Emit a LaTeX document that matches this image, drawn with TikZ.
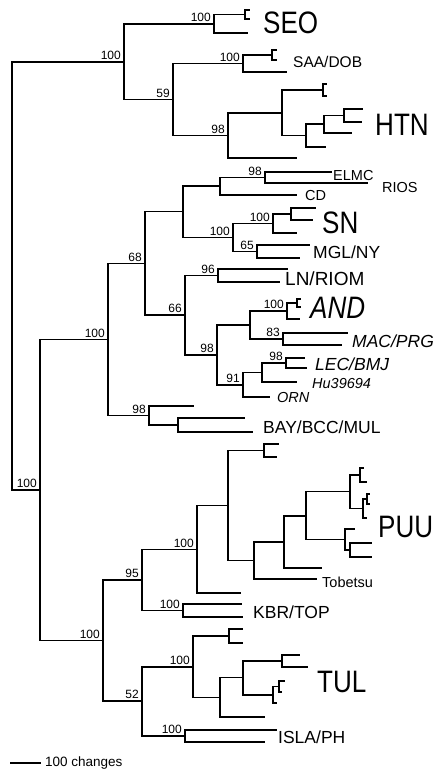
\documentclass[tikz,border=0pt]{standalone}
\usepackage{fontspec}
\setmainfont{Liberation Sans}
\newfontfamily\narrowsf[FakeStretch=0.84]{Liberation Sans}

\tikzset{
  branch/.style={line width=1.9pt},
  bs/.style={anchor=south east, inner sep=0pt, xshift=-3pt, yshift=2pt, font=\fontsize{12}{12}\selectfont},
  bigtip/.style={anchor=base west, inner sep=0pt, font=\narrowsf\fontsize{31}{31}\selectfont},
  midtip/.style={anchor=base west, inner sep=0pt, font=\fontsize{17.5}{17.5}\selectfont},
  smalltip/.style={anchor=base west, inner sep=0pt, font=\fontsize{14.5}{14.5}\selectfont},
}

\begin{document}
\begin{tikzpicture}[x=1pt, y=-1pt]
  \useasboundingbox (0,0) rectangle (437,774);

  % internal nodes
  \foreach \n/\x/\y in {r/12/276, a/124/62, seo/214/24, seoT/245/14.5, n59/173/99.5,
      saa/243/63.5, saaT/272/55, hh/228/135.5, htnA/282/113, htnT/323/90,
      htnB/306/135.5, htnC/324/124, htnD/344/115.5,
      b/40/490, c100/108/339.5, n68/145/263.5, cA/183/211.5, cB/220/186,
      elmc/265/177.5, cS/233/237.5, sn1/273/223.5, sn2/291/214, n65/257/251.5,
      n66/185/315, n96/218/275.5, n98c/217/355, nA/250/325, and/287/311,
      andT/297/303, n83/283/339, n91/243/385, nL/262/372.5, lec/286/363,
      n98b/149/415.5, bay/178/425,
      d100/103/640.5, n95/142/580, pA/197/549.5, pB/228/505.5, pT/264/450.5,
      p1/254/560.5, p2/284/542, p3/306/516, p4/350/491.5, q1/360/475,
      q2/363/508.5, q3/367/499, p5/345/539.5, p5b/350/550, kbr/183/610.5,
      n52/142/701, tA/193/666.75, tT/229/636, t1/220/697.5, t2/243/677.5,
      t3/282/661, t4/273/694.75, t5/279/686.5, isla/185/736}
    \coordinate (\n) at (\x,\y);

  % leaves
  \foreach \n/\x/\y in {seoT-a/250/10, seoT-b/250/19, seo-l/248/33,
      saaT-a/277/50, saaT-b/277/60, saa-l/287/72,
      htnT-a/327/84, htnT-b/327/96, htnD-a/363/109, htnD-b/362/122,
      htnC-l/352/133, htnB-l/326/147, hh-l/297/158,
      elmc-a/332/172, elmc-b/368/183, cd/297/195,
      sn2-a/316/208, sn2-b/313/220, sn1-l/297/233, n65-a/310/245, n65-b/300/258,
      n96-a/288/269, n96-b/280/282, andT-a/301/299, andT-b/301/307, and-l/300/319,
      n83-a/348/333, n83-b/342/345, lec-a/305/358, lec-b/307/368,
      hu/297/382, orn/270/397, n98b-l/194/406, bay-a/245/418, bay-b/253/432,
      pT-a/279/444, pT-b/277/457, q1-a/364/468, q1-b/367/482,
      q3-a/370/494, q3-b/370/504, q2-l/367/518, p5-l/355/529,
      p5b-a/372/543, p5b-b/372/557, p2-l/322/568, tob/317/579, pA-l/241/593,
      kbr-a/242/604, kbr-b/243/617,
      tT-a/243/629, tT-b/243/643, t3-a/300/655, t3-b/308/667,
      t5-a/285/681, t5-b/282/692, t4-l/277/703, t1-l/265/717,
      isla-a/277/730, isla-b/265/742}
    \coordinate (\n) at (\x,\y);

  % branches
  \foreach \p/\c in {r/a, r/b, a/seo, a/n59,
      seo/seoT, seo/seo-l, seoT/seoT-a, seoT/seoT-b,
      n59/saa, n59/hh, saa/saaT, saa/saa-l, saaT/saaT-a, saaT/saaT-b,
      hh/htnA, hh/hh-l, htnA/htnT, htnA/htnB, htnT/htnT-a, htnT/htnT-b,
      htnB/htnC, htnB/htnB-l, htnC/htnD, htnC/htnC-l, htnD/htnD-a, htnD/htnD-b,
      b/c100, b/d100, c100/n68, c100/n98b, n68/cA, n68/n66,
      cA/cB, cA/cS, cB/elmc, cB/cd, elmc/elmc-a, elmc/elmc-b,
      cS/sn1, cS/n65, sn1/sn2, sn1/sn1-l, sn2/sn2-a, sn2/sn2-b,
      n65/n65-a, n65/n65-b, n66/n96, n66/n98c, n96/n96-a, n96/n96-b,
      n98c/nA, n98c/n91, nA/and, nA/n83,
      and/andT, and/and-l, andT/andT-a, andT/andT-b, n83/n83-a, n83/n83-b,
      n91/nL, n91/orn, nL/lec, nL/hu, lec/lec-a, lec/lec-b,
      n98b/n98b-l, n98b/bay, bay/bay-a, bay/bay-b,
      d100/n95, d100/n52, n95/pA, n95/kbr, pA/pB, pA/pA-l,
      pB/pT, pB/p1, pT/pT-a, pT/pT-b, p1/p2, p1/tob, p2/p3, p2/p2-l,
      p3/p4, p3/p5, p4/q1, p4/q2, q1/q1-a, q1/q1-b,
      q2/q3, q2/q2-l, q3/q3-a, q3/q3-b, p5/p5-l, p5/p5b, p5b/p5b-a, p5b/p5b-b,
      kbr/kbr-a, kbr/kbr-b, n52/tA, n52/isla, tA/tT, tA/t1, tT/tT-a, tT/tT-b,
      t1/t2, t1/t1-l, t2/t3, t2/t4, t3/t3-a, t3/t3-b,
      t4/t5, t4/t4-l, t5/t5-a, t5/t5-b, isla/isla-a, isla/isla-b}
    \draw[branch] (\p) |- (\c);

  % bootstrap values
  \foreach \n/\v in {a/100, seo/100, n59/59, saa/100, hh/98, elmc/98, sn1/100,
      cS/100, n65/65, n68/68, n96/96, n66/66, and/100, n83/83, n98c/98, lec/98,
      n91/91, c100/100, n98b/98, b/100, d100/100, n95/95, pA/100, kbr/100,
      n52/52, tA/100, isla/100}
    \node[bs] (bs-\n) at (\n) {\v};

  % taxon names
  \node[bigtip] (l-seo) at (263,33) {SEO};
  \node[midtip, font=\fontsize{15.5}{15.5}\selectfont] (l-saa) at (293,67) {SAA/DOB};
  \node[bigtip] (l-htn) at (375,135) {HTN};
  \node[smalltip] (l-elmc) at (333,180) {ELMC};
  \node[smalltip] (l-rios) at (382,192) {RIOS};
  \node[smalltip] (l-cd) at (305,200) {CD};
  \node[bigtip] (l-sn) at (322,233) {SN};
  \node[midtip] (l-mgl) at (313,258) {MGL/NY};
  \node[midtip, font=\fontsize{19}{19}\selectfont] (l-ln) at (285,285) {LN/RIOM};
  \node[bigtip] (l-and) at (310,318) {\itshape AND};
  \node[midtip] (l-mac) at (352,347) {\itshape MAC/PRG};
  \node[midtip] (l-lec) at (315,370) {\itshape LEC/BMJ};
  \node[smalltip] (l-hu) at (312,388) {\itshape Hu39694};
  \node[smalltip] (l-orn) at (277,402) {\itshape ORN};
  \node[midtip] (l-bay) at (263,433) {BAY/BCC/MUL};
  \node[bigtip] (l-puu) at (378,537) {PUU};
  \node[smalltip] (l-tob) at (322,587) {Tobetsu};
  \node[midtip] (l-kbr) at (253,618) {KBR/TOP};
  \node[bigtip] (l-tul) at (317,692) {TUL};
  \node[midtip] (l-isla) at (278,743) {ISLA/PH};

  % scale bar
  \coordinate (sb-a) at (10,763);
  \coordinate (sb-b) at (41,763);
  \draw[branch] (sb-a) -- (sb-b);
  \node[anchor=west, inner sep=0pt, font=\fontsize{13.5}{13.5}\selectfont] (sb-text) at (45,763) {100 changes};
\end{tikzpicture}
\end{document}
